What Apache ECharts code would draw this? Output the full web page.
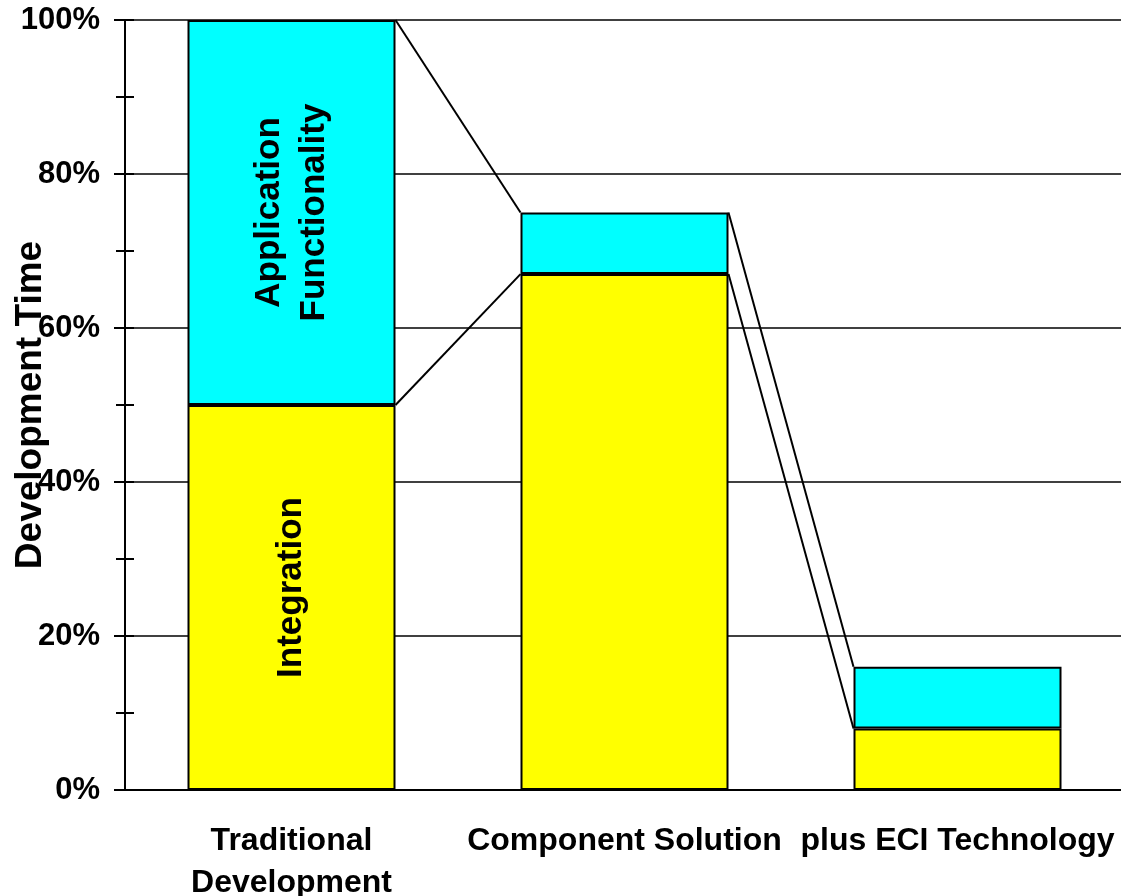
<!DOCTYPE html>
<html>
<head>
<meta charset="utf-8">
<script src="https://cdn.jsdelivr.net/npm/echarts@6/dist/echarts.min.js"></script>
<style>
html,body{margin:0;padding:0;background:#fff;}
#chart{width:1121px;height:896px;}
</style>
</head>
<body>
<div id="chart"></div>
<script>
// ---- data ----
const categories = ['Traditional\nDevelopment', 'Component Solution', 'plus ECI Technology'];
const integration = [50, 67, 8];
const appFunctionality = [50, 8, 8];
const seriesNames = ['Integration', 'Application Functionality'];
const yMin = 0, yMax = 100, yStep = 20;

// ---- derived ----
const totals = integration.map((v, i) => v + appFunctionality[i]);
const connectorData = [];
[integration, totals].forEach(arr => {
  for (let i = 0; i < arr.length - 1; i++) connectorData.push([i, arr[i], arr[i + 1]]);
});

const FONT = '"Liberation Sans", Arial, sans-serif';
const BAR_W = 208;

const chart = echarts.init(document.getElementById('chart'));
const option = {
  animation: false,
  backgroundColor: '#fff',
  grid: { left: 125, top: 20, width: 999, bottom: 106, containLabel: false, outerBoundsMode: 'none' },
  xAxis: {
    type: 'category',
    data: categories,
    axisLine: { show: true, lineStyle: { color: '#000', width: 2 } },
    axisTick: { show: false },
    axisLabel: {
      interval: 0, color: '#000', fontFamily: FONT, fontWeight: 'bold',
      fontSize: 32, lineHeight: 42, margin: 30
    },
    splitLine: { show: false }
  },
  yAxis: [
    {
      type: 'value', min: yMin, max: yMax, interval: yStep, position: 'left',
      name: 'Development Time', nameLocation: 'middle', nameGap: 76, nameMoveOverlap: false,
      nameTextStyle: { color: '#000', fontFamily: FONT, fontWeight: 'bold', fontSize: 37 },
      axisLine: { show: true, lineStyle: { color: '#000', width: 2 } },
      axisTick: { show: true, length: 11, lineStyle: { color: '#000', width: 2 } },
      minorTick: { show: true, splitNumber: 2, length: 9, lineStyle: { color: '#000', width: 2 } },
      axisLabel: {
        formatter: v => v + '%', color: '#000', fontFamily: FONT, fontWeight: 'bold',
        fontSize: 31, margin: 25
      },
      splitLine: { show: true, lineStyle: { color: '#000', width: 1.5 } }
    },
    {
      type: 'value', min: yMin, max: yMax, interval: yStep / 2, position: 'left', offset: 0,
      axisLine: { show: false },
      axisTick: { show: true, inside: true, length: 9, lineStyle: { color: '#000', width: 2 } },
      axisLabel: { show: false },
      splitLine: { show: false }
    }
  ],
  series: [
    {
      name: seriesNames[0], type: 'bar', stack: 'total', barWidth: BAR_W, yAxisIndex: 0,
      itemStyle: { color: '#FFFF00', borderColor: '#000', borderWidth: 2 },
      data: integration.map((v, i) => i === 0 ? {
        value: v,
        label: {
          show: true, position: 'inside', rotate: 90, formatter: seriesNames[0],
          color: '#000', fontFamily: FONT, fontWeight: 'bold', fontSize: 35, offset: [10, 0]
        }
      } : v)
    },
    {
      name: seriesNames[1], type: 'bar', stack: 'total', barWidth: BAR_W, yAxisIndex: 0,
      itemStyle: { color: '#00FFFF', borderColor: '#000', borderWidth: 2 },
      data: appFunctionality.map((v, i) => i === 0 ? {
        value: v,
        label: {
          show: true, position: 'inside', rotate: 90, formatter: 'Application\nFunctionality',
          color: '#000', fontFamily: FONT, fontWeight: 'bold', fontSize: 35, lineHeight: 45
        }
      } : v)
    },
    {
      type: 'custom', yAxisIndex: 0, silent: true, clip: false, z: 5,
      encode: { x: 0, y: 1 },
      data: connectorData,
      renderItem: (params, api) => {
        const half = BAR_W / 2;
        const x0 = api.value(0);
        const p1 = api.coord([x0, api.value(1)]);
        const p2 = api.coord([x0 + 1, api.value(2)]);
        return {
          type: 'line',
          shape: { x1: p1[0] + half, y1: p1[1], x2: p2[0] - half, y2: p2[1] },
          style: { stroke: '#000', lineWidth: 2 }
        };
      }
    }
  ]
};
chart.setOption(option);
</script>
</body>
</html>
